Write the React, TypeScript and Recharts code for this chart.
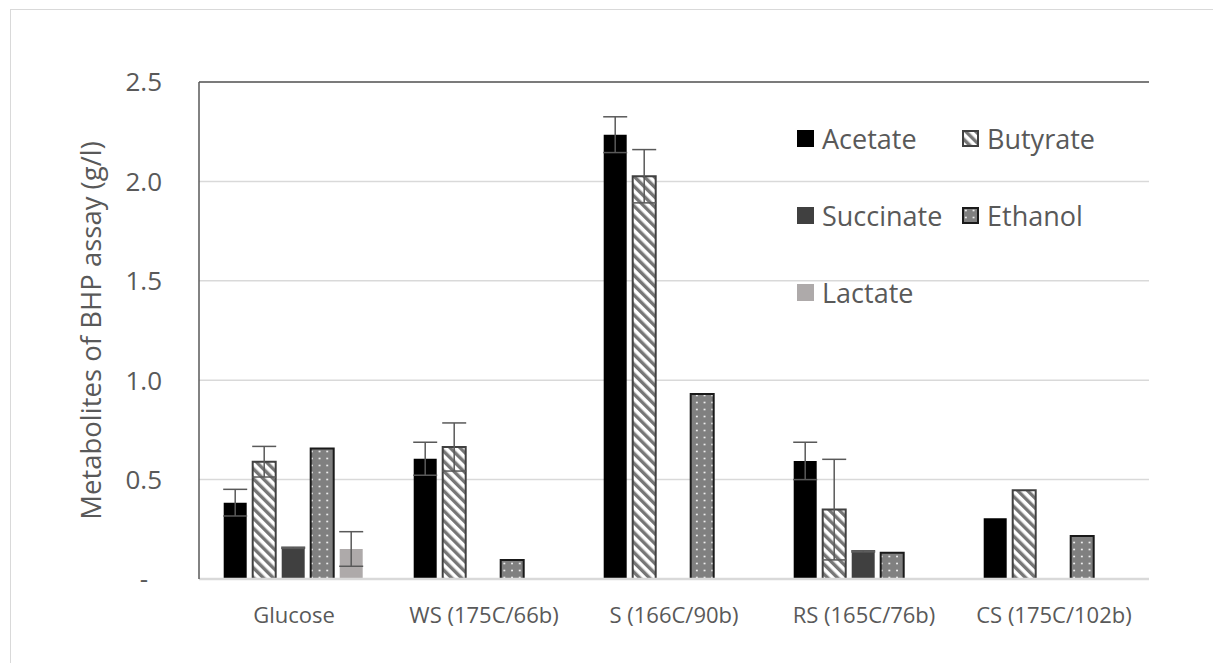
import React from 'react';
import { BarChart, Bar, XAxis, YAxis, CartesianGrid, ErrorBar, Legend, ReferenceLine } from 'recharts';

const categories = ['Glucose', 'WS (175C/66b)', 'S (166C/90b)', 'RS (165C/76b)', 'CS (175C/102b)'];
const acetate = [0.384, 0.605, 2.235, 0.594, 0.305];
const acetateErr = [0.067, 0.083, 0.09, 0.094, null];
const butyrate = [0.59, 0.664, 2.026, 0.349, 0.446];
const butyrateErr = [0.077, 0.121, 0.134, 0.253, null];
const succinate = [0.157, null, null, 0.139, null];
const succinateErr = [0.003, null, null, 0.003, null];
const ethanol = [0.657, 0.096, 0.93, 0.132, 0.216];
const lactate = [0.151, null, null, null, null];
const lactateErr = [0.087, null, null, null, null];
const seriesNames = ['Acetate', 'Butyrate', 'Succinate', 'Ethanol', 'Lactate'];
const yTicks = [0, 0.5, 1, 1.5, 2, 2.5];
const yTickLabels = ['-', '0.5', '1.0', '1.5', '2.0', '2.5'];
const yLabel = 'Metabolites of BHP assay (g/l)';

const data = categories.map((c, i) => ({
  category: c,
  acetate: acetate[i],
  acetateErr: acetateErr[i],
  butyrate: butyrate[i],
  butyrateErr: butyrateErr[i],
  succinate: succinate[i],
  succinateErr: succinateErr[i],
  ethanol: ethanol[i],
  lactate: lactate[i],
  lactateErr: lactateErr[i],
}));

const FONT = '"Open Sans", "Noto Sans", sans-serif';
const TEXT = '#595959';

const Patterns = ({ prefix }: { prefix: string }) => (
  <defs>
    <pattern id={`${prefix}stripes`} patternUnits="userSpaceOnUse" width="7" height="7" patternTransform="rotate(-45)">
      <rect x="0" y="0" width="7" height="7" fill="#ffffff" />
      <rect x="0" y="0" width="3.4" height="7" fill="#767676" />
    </pattern>
    <pattern id={`${prefix}dots`} patternUnits="userSpaceOnUse" width="7.7" height="7">
      <rect x="0" y="0" width="7.7" height="7" fill="#808080" />
      <circle cx="3.85" cy="3.5" r="1" fill="#f2f2f2" />
    </pattern>
  </defs>
);

const iconStyle: Record<string, { fill: string; stroke?: string }> = {
  acetate: { fill: '#000000' },
  butyrate: { fill: 'url(#lgstripes)', stroke: '#404040' },
  succinate: { fill: '#404040' },
  ethanol: { fill: 'url(#lgdots)', stroke: '#1a1a1a' },
  lactate: { fill: '#aeaaaa' },
};

const renderLegend = (props: any) => {
  const payload = [...(props.payload || [])].sort(
    (a: any, b: any) => seriesNames.indexOf(a.value) - seriesNames.indexOf(b.value)
  );
  return (
    <div
      style={{
        display: 'grid',
        gridTemplateColumns: '165px 175px',
        gridAutoRows: '77px',
        fontFamily: FONT,
        fontSize: 27,
        color: TEXT,
      }}
    >
      {payload.map((p: any) => {
        const st = iconStyle[p.dataKey] || { fill: p.color };
        return (
          <div key={p.dataKey} style={{ display: 'flex', alignItems: 'center', whiteSpace: 'nowrap' }}>
            <svg width="17" height="17" style={{ marginRight: 8, flex: 'none' }}>
              <Patterns prefix="lg" />
              <rect
                x={st.stroke ? 1 : 0}
                y={st.stroke ? 1 : 0}
                width={st.stroke ? 15 : 17}
                height={st.stroke ? 15 : 17}
                fill={st.fill}
                stroke={st.stroke || 'none'}
                strokeWidth={st.stroke ? 2 : 0}
              />
            </svg>
            <span>{p.value}</span>
          </div>
        );
      })}
    </div>
  );
};

const YTick = (props: any) => {
  const { x, y, payload } = props;
  const idx = yTicks.indexOf(payload.value);
  const label = idx >= 0 ? yTickLabels[idx] : String(payload.value);
  const isDash = payload.value === 0;
  return (
    <text
      x={x}
      y={y}
      dx={isDash ? -14 : 0}
      dy="0.36em"
      textAnchor="end"
      fill={TEXT}
      fontSize={26}
      fontFamily={FONT}
    >
      {label}
    </text>
  );
};

const YLabel = (props: any) => {
  const vb = props.viewBox || { x: 0, y: 0, width: 0, height: 0 };
  const cx = 90;
  const cy = vb.y + vb.height / 2;
  return (
    <text
      x={cx}
      y={cy}
      transform={`rotate(-90, ${cx}, ${cy})`}
      textAnchor="middle"
      dominantBaseline="central"
      fill={TEXT}
      fontSize={27.5}
      fontFamily={FONT}
    >
      {yLabel}
    </text>
  );
};

const errProps = { stroke: '#595959', strokeWidth: 1.5, width: 12 };

export default function App() {
  return (
    <div style={{ position: 'fixed', left: 0, top: 0, width: 1213, height: 663, background: '#ffffff', overflow: 'hidden' }}>
      <div
        style={{
          position: 'absolute',
          left: 10,
          top: 9,
          width: 1300,
          height: 800,
          borderLeft: '1.5px solid #d9d9d9',
          borderTop: '1.5px solid #d9d9d9',
        }}
      />
      <div style={{ position: 'absolute', left: 0, top: 0 }}>
        <BarChart
          width={1213}
          height={663}
          data={data}
          margin={{ top: 82, right: 64, bottom: 34, left: 0 }}
          barCategoryGap="13%"
          barGap={6}
        >
          <Patterns prefix="bar" />
          <CartesianGrid vertical={false} stroke="#d9d9d9" strokeWidth={1.5} />
          <XAxis
            dataKey="category"
            height={50}
            axisLine={{ stroke: '#d9d9d9', strokeWidth: 2.5 }}
            tickLine={false}
            tickSize={0}
            tickMargin={28}
            tick={{ fill: TEXT, fontSize: 22, fontFamily: FONT }}
            interval={0}
          />
          <YAxis
            width={199}
            domain={[0, 2.5]}
            ticks={yTicks}
            axisLine={{ stroke: '#595959', strokeWidth: 1.5 }}
            tickLine={false}
            tickSize={0}
            tickMargin={37}
            tick={<YTick />}
            label={<YLabel />}
          />
          <YAxis
            yAxisId="r"
            orientation="right"
            width={0}
            domain={[0, 2.5]}
            ticks={yTicks}
            axisLine={{ stroke: '#595959', strokeWidth: 1.5 }}
            tickLine={false}
            tick={false}
          />
          <ReferenceLine y={2.5} stroke="#595959" strokeWidth={1.5} />
          <Legend
            layout="vertical"
            align="center"
            verticalAlign="middle"
            content={renderLegend}
            wrapperStyle={{ position: 'absolute', left: 797, top: 100, width: 340, height: 240 }}
          />
          <Bar dataKey="acetate" name={seriesNames[0]} fill="#000000" isAnimationActive={false}>
            <ErrorBar dataKey="acetateErr" {...errProps} />
          </Bar>
          <Bar dataKey="butyrate" name={seriesNames[1]} fill="url(#barstripes)" stroke="#404040" strokeWidth={2} isAnimationActive={false}>
            <ErrorBar dataKey="butyrateErr" {...errProps} />
          </Bar>
          <Bar dataKey="succinate" name={seriesNames[2]} fill="#404040" isAnimationActive={false}>
            <ErrorBar dataKey="succinateErr" {...errProps} />
          </Bar>
          <Bar dataKey="ethanol" name={seriesNames[3]} fill="url(#bardots)" stroke="#1a1a1a" strokeWidth={2} isAnimationActive={false} />
          <Bar dataKey="lactate" name={seriesNames[4]} fill="#aeaaaa" isAnimationActive={false}>
            <ErrorBar dataKey="lactateErr" {...errProps} />
          </Bar>
        </BarChart>
      </div>
    </div>
  );
}
